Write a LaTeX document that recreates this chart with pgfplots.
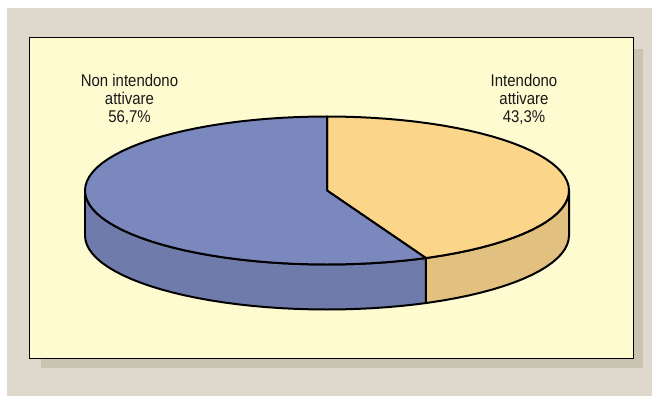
\documentclass[border=0pt]{standalone}
\usepackage{fontspec}
\setmainfont[FakeStretch=0.88]{Liberation Sans}
\usepackage{pgfplots}
\usepackage{pgfplotstable}
\pgfplotsset{compat=1.18}

\definecolor{pagebg}{HTML}{DED8CD}
\definecolor{panelshadow}{HTML}{C9C3B1}
\definecolor{panelbg}{HTML}{FFFBD0}
\definecolor{topblue}{HTML}{7B88BE}
\definecolor{sideblue}{HTML}{6F7BAB}
\definecolor{toporange}{HTML}{FBD68A}
\definecolor{sideorange}{HTML}{E2C07F}

% Each table walks round one face of the disc:
% p = cumulative share in percent, r = 0 centre / 1 rim, d = drop to the lower rim
\pgfplotstableread[row sep=\\]{
p r d\\
0 0 0\\ 0 1 0\\ 1 1 0\\ 2 1 0\\ 3 1 0\\ 4 1 0\\ 5 1 0\\ 6 1 0\\ 7 1 0\\ 8 1 0\\ 9 1 0\\
10 1 0\\ 11 1 0\\ 12 1 0\\ 13 1 0\\ 14 1 0\\ 15 1 0\\ 16 1 0\\ 17 1 0\\ 18 1 0\\ 19 1 0\\
20 1 0\\ 21 1 0\\ 22 1 0\\ 23 1 0\\ 24 1 0\\ 25 1 0\\ 26 1 0\\ 27 1 0\\ 28 1 0\\ 29 1 0\\
30 1 0\\ 31 1 0\\ 32 1 0\\ 33 1 0\\ 34 1 0\\ 35 1 0\\ 36 1 0\\ 37 1 0\\ 38 1 0\\ 39 1 0\\
40 1 0\\ 41 1 0\\ 42 1 0\\ 43 1 0\\ 43.3 1 0\\ 43.3 0 0\\ 0 0 0\\
}\topIntendono

\pgfplotstableread[row sep=\\]{
p r d\\
43.3 0 0\\ 43.3 1 0\\ 44 1 0\\ 45 1 0\\ 46 1 0\\ 47 1 0\\ 48 1 0\\ 49 1 0\\
50 1 0\\ 51 1 0\\ 52 1 0\\ 53 1 0\\ 54 1 0\\ 55 1 0\\ 56 1 0\\ 57 1 0\\ 58 1 0\\ 59 1 0\\
60 1 0\\ 61 1 0\\ 62 1 0\\ 63 1 0\\ 64 1 0\\ 65 1 0\\ 66 1 0\\ 67 1 0\\ 68 1 0\\ 69 1 0\\
70 1 0\\ 71 1 0\\ 72 1 0\\ 73 1 0\\ 74 1 0\\ 75 1 0\\ 76 1 0\\ 77 1 0\\ 78 1 0\\ 79 1 0\\
80 1 0\\ 81 1 0\\ 82 1 0\\ 83 1 0\\ 84 1 0\\ 85 1 0\\ 86 1 0\\ 87 1 0\\ 88 1 0\\ 89 1 0\\
90 1 0\\ 91 1 0\\ 92 1 0\\ 93 1 0\\ 94 1 0\\ 95 1 0\\ 96 1 0\\ 97 1 0\\ 98 1 0\\ 99 1 0\\
100 1 0\\ 100 0 0\\ 43.3 0 0\\
}\topNonIntendono

\pgfplotstableread[row sep=\\]{
p r d\\
25 1 0\\ 26 1 0\\ 27 1 0\\ 28 1 0\\ 29 1 0\\ 30 1 0\\ 31 1 0\\ 32 1 0\\ 33 1 0\\ 34 1 0\\
35 1 0\\ 36 1 0\\ 37 1 0\\ 38 1 0\\ 39 1 0\\ 40 1 0\\ 41 1 0\\ 42 1 0\\ 43 1 0\\ 43.3 1 0\\
43.3 1 45\\ 43 1 45\\ 42 1 45\\ 41 1 45\\ 40 1 45\\ 39 1 45\\ 38 1 45\\ 37 1 45\\ 36 1 45\\ 35 1 45\\
34 1 45\\ 33 1 45\\ 32 1 45\\ 31 1 45\\ 30 1 45\\ 29 1 45\\ 28 1 45\\ 27 1 45\\ 26 1 45\\ 25 1 45\\
25 1 0\\
}\sideIntendono

\pgfplotstableread[row sep=\\]{
p r d\\
43.3 1 0\\ 44 1 0\\ 45 1 0\\ 46 1 0\\ 47 1 0\\ 48 1 0\\ 49 1 0\\
50 1 0\\ 51 1 0\\ 52 1 0\\ 53 1 0\\ 54 1 0\\ 55 1 0\\ 56 1 0\\ 57 1 0\\ 58 1 0\\ 59 1 0\\
60 1 0\\ 61 1 0\\ 62 1 0\\ 63 1 0\\ 64 1 0\\ 65 1 0\\ 66 1 0\\ 67 1 0\\ 68 1 0\\ 69 1 0\\
70 1 0\\ 71 1 0\\ 72 1 0\\ 73 1 0\\ 74 1 0\\ 75 1 0\\
75 1 45\\ 74 1 45\\ 73 1 45\\ 72 1 45\\ 71 1 45\\ 70 1 45\\
69 1 45\\ 68 1 45\\ 67 1 45\\ 66 1 45\\ 65 1 45\\ 64 1 45\\ 63 1 45\\ 62 1 45\\ 61 1 45\\ 60 1 45\\
59 1 45\\ 58 1 45\\ 57 1 45\\ 56 1 45\\ 55 1 45\\ 54 1 45\\ 53 1 45\\ 52 1 45\\ 51 1 45\\ 50 1 45\\
49 1 45\\ 48 1 45\\ 47 1 45\\ 46 1 45\\ 45 1 45\\ 44 1 45\\ 43.3 1 45\\ 43.3 1 0\\
}\sideNonIntendono

\pgfplotsset{
  disc/.style={
    mark=none, solid, line width=2pt, line join=round, draw=black,
  },
  table/disc face/.style={
    x expr={327+242*\thisrow{r}*cos(90-3.6*\thisrow{p})},
    y expr={190.5-74*\thisrow{r}*sin(90-3.6*\thisrow{p})+\thisrow{d}},
  },
}

\begin{document}
\begin{tikzpicture}
\begin{axis}[
  scale only axis, width=653bp, height=396bp,
  xmin=0, xmax=653, ymin=0, ymax=396, y dir=reverse,
  hide axis, clip=false,
]
  % page background, drop shadow and yellow panel
  \addplot[draw=none, fill=white, mark=none] coordinates {(0,0) (653,0) (653,396) (0,396)} -- cycle;
  \addplot[draw=none, fill=pagebg, mark=none] coordinates {(7,8) (652,8) (652,396) (7,396)} -- cycle;
  \addplot[draw=none, fill=panelshadow, mark=none] coordinates {(41,49) (643,49) (643,368) (41,368)} -- cycle;
  \addplot[draw=black, line width=1.3pt, fill=panelbg, mark=none] coordinates {(29.5,37.5) (633.5,37.5) (633.5,358.5) (29.5,358.5)} -- cycle;

  % disc walls, then the two upper faces
  \addplot[disc, fill=sideorange] table[disc face] {\sideIntendono};
  \addplot[disc, fill=sideblue] table[disc face] {\sideNonIntendono};
  \addplot[disc, fill=toporange] table[disc face] {\topIntendono};
  \addplot[disc, fill=topblue] table[disc face] {\topNonIntendono};

  % slice labels
  \node[align=center, text=black!90, font=\fontsize{17bp}{18bp}\selectfont, anchor=center]
    at (axis cs:129.5,99.5) {Non intendono\\attivare\\56,7\%};
  \node[align=center, text=black!90, font=\fontsize{17bp}{18bp}\selectfont, anchor=center]
    at (axis cs:524,99.5) {Intendono\\attivare\\43,3\%};
\end{axis}
\end{tikzpicture}
\end{document}
